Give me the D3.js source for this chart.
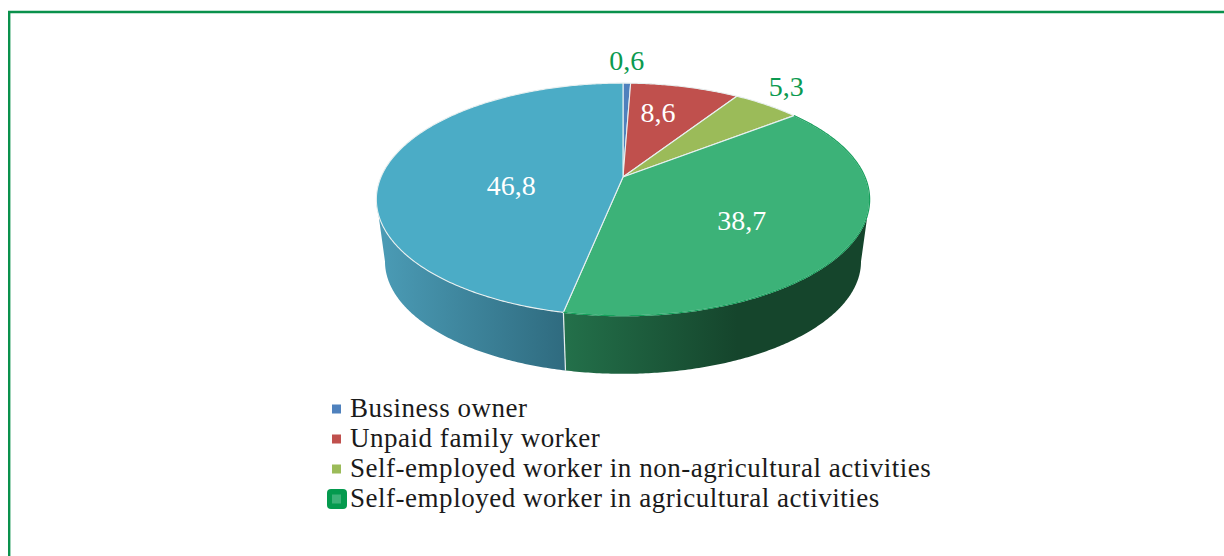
<!DOCTYPE html>
<html>
<head>
<meta charset="utf-8">
<script src="https://cdn.jsdelivr.net/npm/d3@7"></script>
<style>
  html, body { margin: 0; padding: 0; background: #fff; overflow: hidden; }
  text { font-family: "Liberation Serif", serif; }
</style>
</head>
<body>
<div id="chart"></div>
<script>
///////////////////////////////// Data /////////////////////////////////
var categories = ["Business owner", "Unpaid family worker", "Self-employed worker in non-agricultural activities", "Self-employed worker in agricultural activities", "Other"]
var values = [0.6, 8.6, 5.3, 38.7, 46.8]
var valueLabels = ["0,6", "8,6", "5,3", "38,7", "46,8"]
var colors = ["#4f81bd", "#c0504d", "#9bbb59", "#3cb278", "#4bacc6"]
var legendCount = 4

///////////////////////////////// Setup /////////////////////////////////
var totalWidth = 1224
var totalHeight = 556
var frameColor = "#0b9a50"

var svg = d3.select("#chart").append("svg")
  .attr("width", totalWidth)
  .attr("height", totalHeight)
  .style("display", "block")

// frame runs off the right and bottom of the picture
svg.append("path")
  .attr("d", "M9.2,556V12H1224")
  .attr("fill", "none")
  .attr("stroke", "#0a914c")
  .attr("stroke-width", 2.4)

///////////////////////////////// Projection /////////////////////////////////
// the pie is a tilted disc seen in perspective, so its hub is not the ellipse centre
var cx = 623, hubY = 177
var radiusX = 242, radiusY = 112, tilt = 0.193
var depthScale = 0.965, vanishY = 1974

function project(angle, r) {
  var u = r * Math.sin(angle), v = r * Math.cos(angle)
  var w = 1 + tilt * v
  return [cx + radiusX * u / w, hubY - radiusY * v / w]
}

function projectBottom(angle) {
  var p = project(angle, 1)
  return [cx + depthScale * (p[0] - cx), vanishY + depthScale * (p[1] - vanishY)]
}

var line = d3.line()

function arcAngles(a0, a1) {
  var n = Math.max(2, Math.ceil(Math.abs(a1 - a0) / 0.01))
  return d3.range(n + 1).map(i => a0 + (a1 - a0) * i / n)
}

var pie = d3.pie().sort(null).value(d => d)
var slices = pie(values)

///////////////////////////////// Walls /////////////////////////////////
// widest point of the projected ellipse
var rightEdge = Math.acos(-tilt)
var leftEdge = 2 * Math.PI - rightEdge
var seam = slices[3].endAngle

var wallBands = [
  { from: rightEdge, to: seam, id: "wallGreen", stops: [[0, "#23704a"], [0.58, "#15452c"], [1, "#15452c"]], x1: 565, x2: 862 },
  { from: seam, to: leftEdge, id: "wallTeal", stops: [[0, "#4a9ab4"], [1, "#2f6b7f"]], x1: 385, x2: 565 }
]

var defs = svg.append("defs")
wallBands.forEach(function(b) {
  var grad = defs.append("linearGradient")
    .attr("id", b.id)
    .attr("gradientUnits", "userSpaceOnUse")
    .attr("x1", b.x1).attr("x2", b.x2)
    .attr("y1", 0).attr("y2", 0)
  b.stops.forEach(s => grad.append("stop").attr("offset", s[0]).attr("stop-color", s[1]))

  var angles = arcAngles(b.from, b.to)
  var pts = angles.map(a => project(a, 1)).concat(angles.slice().reverse().map(projectBottom))
  svg.append("path")
    .attr("d", line(pts) + "Z")
    .attr("fill", "url(#" + b.id + ")")
})

// light seam between the two walls
svg.append("path")
  .attr("d", line([project(seam, 1), projectBottom(seam)]))
  .attr("stroke", "#e6eeee")
  .attr("stroke-width", 1.2)
  .attr("fill", "none")

///////////////////////////////// Top face /////////////////////////////////
svg.selectAll(".slice").data(slices).enter().append("path")
  .attr("class", "slice")
  .attr("d", function(d) {
    var pts = [project(0, 0)].concat(arcAngles(d.startAngle, d.endAngle).map(a => project(a, 1)))
    return line(pts) + "Z"
  })
  .attr("fill", (d, i) => colors[i])
  .attr("stroke", "#e8f0f0")
  .attr("stroke-width", 1.1)
  .attr("stroke-linejoin", "round")

// green rim on the agricultural slice
svg.append("path")
  .attr("d", line(arcAngles(slices[3].startAngle, slices[3].endAngle).map(a => project(a, 1))))
  .attr("fill", "none")
  .attr("stroke", "#17a05c")
  .attr("stroke-width", 1.2)

///////////////////////////////// Data labels /////////////////////////////////
// radius on the disc and angular shift from the slice middle, in degrees
var labelRadius = [1.291, 0.66, 1.241, 0.588, 0.462]
var labelShift = [-0.2, -3.4, -2.6, 7.3, -15.6]
var labelFill = [frameColor, "#fff", frameColor, "#fff", "#fff"]

svg.selectAll(".value").data(slices).enter().append("text")
  .attr("class", "value")
  .attr("x", (d, i) => project((d.startAngle + d.endAngle) / 2 + labelShift[i] * Math.PI / 180, labelRadius[i])[0])
  .attr("y", (d, i) => project((d.startAngle + d.endAngle) / 2 + labelShift[i] * Math.PI / 180, labelRadius[i])[1])
  .attr("dy", "0.31em")
  .attr("text-anchor", "middle")
  .attr("font-size", 28)
  .attr("fill", (d, i) => labelFill[i])
  .text((d, i) => valueLabels[i])

///////////////////////////////// Legend /////////////////////////////////
var legendY = d3.scalePoint()
  .domain(categories.slice(0, legendCount))
  .range([409, 499])

var legend = svg.selectAll(".legend").data(categories.slice(0, legendCount)).enter().append("g")
  .attr("class", "legend")
  .attr("transform", d => "translate(0," + legendY(d) + ")")

legend.each(function(d, i) {
  var g = d3.select(this)
  if (i === legendCount - 1) {
    g.append("rect")
      .attr("x", 327).attr("y", -10)
      .attr("width", 20).attr("height", 20)
      .attr("rx", 4)
      .attr("fill", "#049a4e")
  }
  g.append("rect")
    .attr("x", 332).attr("y", -4.5)
    .attr("width", 9).attr("height", 9)
    .attr("fill", colors[i])
})

legend.append("text")
  .attr("x", 350)
  .attr("dy", "0.29em")
  .attr("font-size", 27)
  .attr("letter-spacing", 0.52)
  .attr("fill", "#1a1a1a")
  .text(d => d)
</script>
</body>
</html>
